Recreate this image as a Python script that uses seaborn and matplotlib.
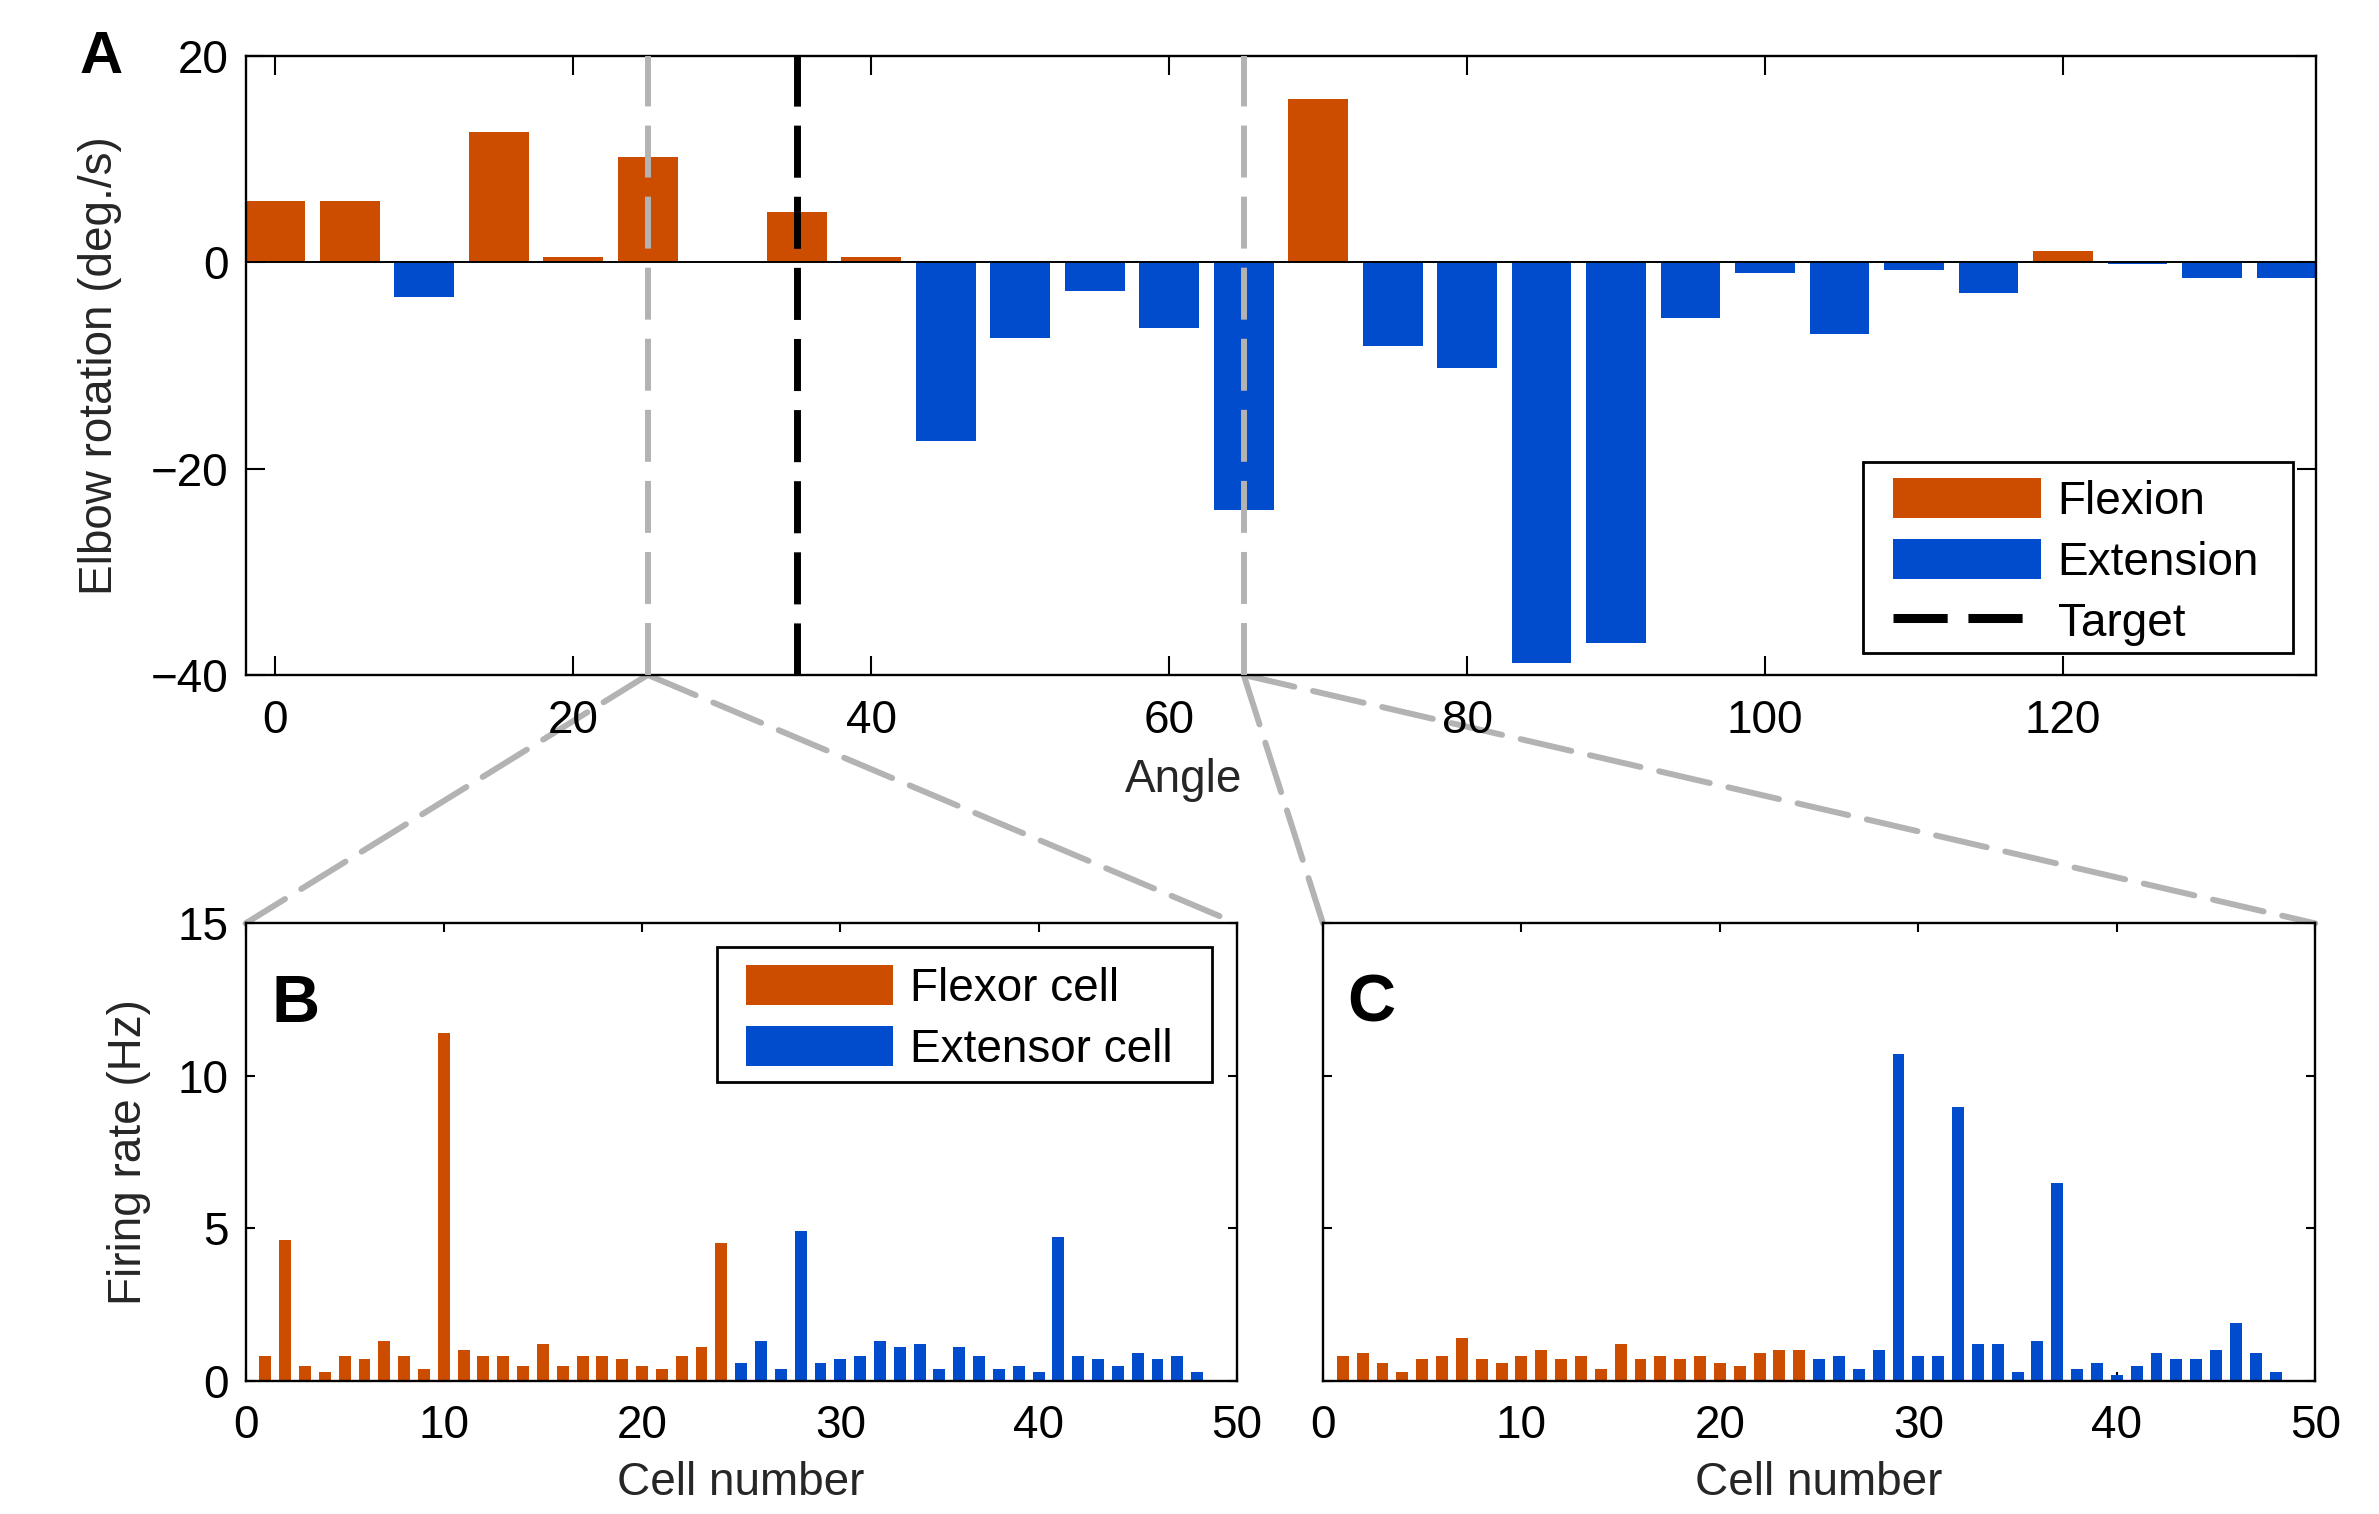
import matplotlib
matplotlib.use("Agg")
import matplotlib.pyplot as plt
import numpy as np
import pandas as pd
import seaborn as sns
from matplotlib.patches import Patch, Rectangle, ConnectionPatch
from matplotlib.lines import Line2D

# ---------------- data ----------------
angles = [0, 5, 10, 15, 20, 25, 30, 35, 40, 45, 50, 55, 60, 65, 70,
          75, 80, 85, 90, 95, 100, 105, 110, 115, 120, 125, 130, 135]
rotation = [5.9, 5.9, -3.4, 12.6, 0.5, 10.2, 0.0, 4.9, 0.5, -17.3, -7.4, -2.8,
            -6.4, -24.0, 15.8, -8.1, -10.3, -38.8, -36.9, -5.4, -1.1, -7.0,
            -0.8, -3.0, 1.1, -0.15, -1.5, -1.5]
target_angle = 35
zoom_angles = [25, 65]

cells = [1, 2, 3, 4, 5, 6, 7, 8, 9, 10, 11, 12, 13, 14, 15, 16, 17, 18, 19, 20,
         21, 22, 23, 24, 25, 26, 27, 28, 29, 30, 31, 32, 33, 34, 35, 36, 37, 38,
         39, 40, 41, 42, 43, 44, 45, 46, 47, 48]
cell_type = ["Flexor cell"] * 24 + ["Extensor cell"] * 24
rate_b = [0.81, 4.62, 0.50, 0.28, 0.81, 0.70, 1.30, 0.81, 0.39, 11.4,
          1.0, 0.81, 0.81, 0.50, 1.19, 0.50, 0.81, 0.81, 0.70, 0.50,
          0.39, 0.81, 1.10, 4.51, 0.59, 1.30, 0.39, 4.91, 0.59, 0.70,
          0.81, 1.30, 1.10, 1.19, 0.39, 1.10, 0.81, 0.39, 0.50, 0.28,
          4.70, 0.81, 0.70, 0.50, 0.90, 0.70, 0.81, 0.28]
rate_c = [0.81, 0.90, 0.59, 0.28, 0.70, 0.81, 1.41, 0.70, 0.59, 0.81,
          1.0, 0.70, 0.81, 0.39, 1.19, 0.70, 0.81, 0.70, 0.81, 0.59,
          0.50, 0.90, 1.0, 1.0, 0.70, 0.81, 0.39, 1.0, 10.72, 0.81,
          0.81, 8.99, 1.19, 1.19, 0.28, 1.30, 6.50, 0.39, 0.59, 0.20,
          0.50, 0.90, 0.70, 0.70, 1.0, 1.90, 0.90, 0.28]

a_xticks = [0, 20, 40, 60, 80, 100, 120]
a_yticks = [-40, -20, 0, 20]
bc_xticks = [0, 10, 20, 30, 40, 50]
bc_yticks = [0, 5, 10, 15]

ORANGE = "#cc4c00"
BLUE = "#004ccc"
GRAY = "#b3b3b3"

# ---------------- style ----------------
sns.set_style("ticks")
plt.rcParams["font.family"] = ["Liberation Sans", "DejaVu Sans"]
plt.rcParams["font.size"] = 33
plt.rcParams["axes.linewidth"] = 1.7
plt.rcParams["axes.edgecolor"] = "black"
plt.rcParams["text.color"] = "black"
plt.rcParams["xtick.color"] = "black"
plt.rcParams["ytick.color"] = "black"

fig = plt.figure(figsize=(23.79, 15.14), dpi=100)
axA = fig.add_axes([0.1032, 0.5542, 0.8705, 0.4090])
axB = fig.add_axes([0.1032, 0.0880, 0.4167, 0.3021])
axC = fig.add_axes([0.5561, 0.0880, 0.4171, 0.3021])

# ---------------- panel A ----------------
dfA = pd.DataFrame({"angle": angles, "rotation": rotation})
dfA["kind"] = np.where(dfA["rotation"] >= 0, "Flexion", "Extension")
sns.barplot(data=dfA, x="angle", y="rotation", hue="kind",
            palette={"Flexion": ORANGE, "Extension": BLUE},
            native_scale=True, dodge=False, width=0.8, saturation=1,
            errorbar=None, legend=False, linewidth=0, ax=axA)
axA.axhline(0, color="black", lw=1.4, zorder=2.6)
for za in zoom_angles:
    axA.axvline(za, color=GRAY, lw=4.3, linestyle=(0, (8.7, 3.2)), zorder=3)
axA.axvline(target_angle, color="black", lw=5, linestyle=(0, (7.5, 2.74)), zorder=3.1)
axA.set_xlim(-2, 137)
axA.set_ylim(-40, 20)
axA.set_xticks(a_xticks)
axA.set_yticks(a_yticks)
axA.tick_params(direction="in", top=True, right=True, length=13.5, width=1.5)
axA.tick_params(axis="x", pad=17)
axA.tick_params(axis="y", pad=12)
axA.set_xlabel("Angle")
axA.set_ylabel("Elbow rotation (deg./s)")
axA.xaxis.set_label_coords(0.4528, -0.134)
axA.yaxis.set_label_coords(-0.0595, 0.5)

hA = [Patch(facecolor=ORANGE, edgecolor="none", label="Flexion"),
      Patch(facecolor=BLUE, edgecolor="none", label="Extension"),
      Line2D([], [], color="black", lw=6.5, linestyle=(0, (6.0, 2.3)), label="Target")]
axA.legend(handles=hA, loc="upper left", bbox_to_anchor=(0.7954, 0.3185),
           frameon=False, borderpad=0, borderaxespad=0, handlelength=3.24,
           handleheight=0.98, handletextpad=0.36, labelspacing=0.33, fontsize=33)
axA.add_patch(Rectangle((0.781, 0.036), 0.9889 - 0.781, 0.3445 - 0.036,
                        transform=axA.transAxes, fill=False, edgecolor="black",
                        lw=2, zorder=5, clip_on=False))

# ---------------- panels B and C ----------------
for ax, rates in [(axB, rate_b), (axC, rate_c)]:
    df = pd.DataFrame({"cell": cells, "rate": rates, "type": cell_type})
    sns.barplot(data=df, x="cell", y="rate", hue="type",
                palette={"Flexor cell": ORANGE, "Extensor cell": BLUE},
                native_scale=True, dodge=False, width=0.6, saturation=1,
                errorbar=None, legend=False, linewidth=0, ax=ax)
    ax.set_xlim(0, 50)
    ax.set_ylim(0, 15)
    ax.set_xticks(bc_xticks)
    ax.set_yticks(bc_yticks)
    ax.set_axisbelow(True)
    ax.tick_params(direction="in", top=True, right=True, length=6.5, width=1.5)
    ax.tick_params(axis="x", pad=17)
    ax.tick_params(axis="y", pad=12)
    ax.set_xlabel("Cell number")
    ax.xaxis.set_label_coords(0.5, -0.176)

axB.set_ylabel("Firing rate (Hz)")
axB.yaxis.set_label_coords(-0.095, 0.5)
axC.set_ylabel("")
axC.set_yticklabels([])

hB = [Patch(facecolor=ORANGE, edgecolor="none", label="Flexor cell"),
      Patch(facecolor=BLUE, edgecolor="none", label="Extensor cell")]
axB.legend(handles=hB, loc="upper left", bbox_to_anchor=(0.5047, 0.9095),
           frameon=False, borderpad=0, borderaxespad=0, handlelength=3.21,
           handleheight=0.98, handletextpad=0.37, labelspacing=0.33, fontsize=33)
axB.add_patch(Rectangle((0.4752, 0.6537), 0.9752 - 0.4752, 0.9475 - 0.6537,
                        transform=axB.transAxes, fill=False, edgecolor="black",
                        lw=2, zorder=5, clip_on=False))

# ---------------- zoom connectors ----------------
for za, ax in zip(zoom_angles, [axB, axC]):
    for xb in (0, 50):
        con = ConnectionPatch(xyA=(za, -40), coordsA=axA.transData,
                              xyB=(xb, 15), coordsB=ax.transData,
                              color=GRAY, lw=4.3, linestyle=(0, (8.7, 3.2)),
                              zorder=0)
        fig.add_artist(con)

# ---------------- panel letters ----------------
fig.text(80 / 2379, 1 - 73 / 1514, "A", fontsize=43, fontweight="bold",
         ha="left", va="baseline")
fig.text(272 / 2379, 1 - 1022 / 1514, "B", fontsize=48, fontweight="bold",
         ha="left", va="baseline")
fig.text(1347 / 2379, 1 - 1022 / 1514, "C", fontsize=48, fontweight="bold",
         ha="left", va="baseline")

fig.savefig("out.png", dpi=100)
